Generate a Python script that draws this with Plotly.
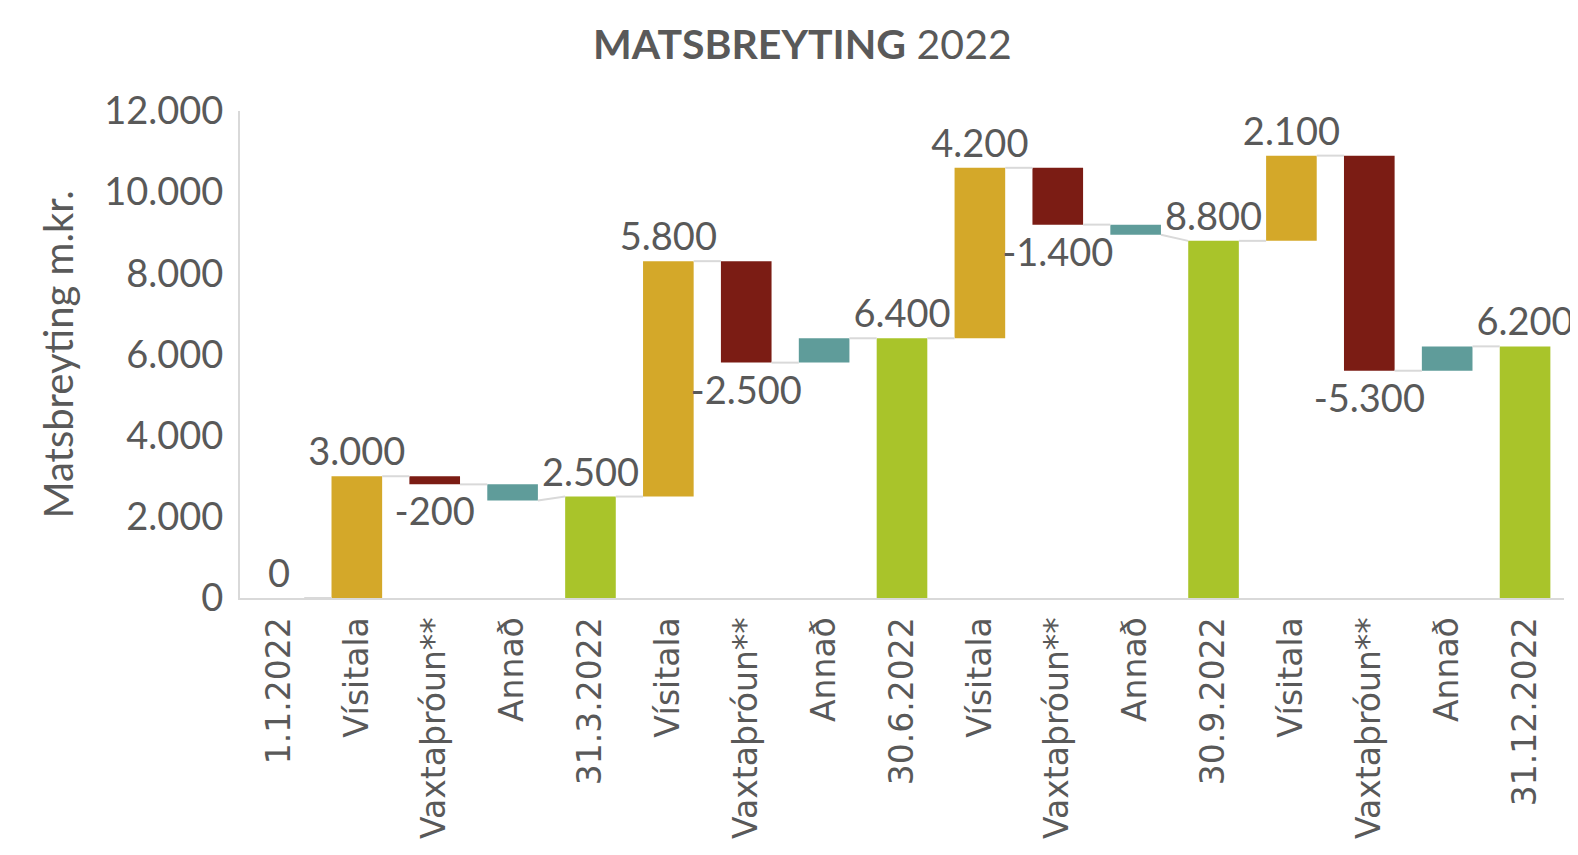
import plotly.graph_objects as go

# categories along the x axis
labels = ["1.1.2022", "Vísitala", "Vaxtaþróun**", "Annað",
          "31.3.2022", "Vísitala", "Vaxtaþróun**", "Annað",
          "30.6.2022", "Vísitala", "Vaxtaþróun**", "Annað",
          "30.9.2022", "Vísitala", "Vaxtaþróun**", "Annað",
          "31.12.2022"]
kinds = ["stada", "visitala", "vaxtathroun", "annad",
         "stada", "visitala", "vaxtathroun", "annad",
         "stada", "visitala", "vaxtathroun", "annad",
         "stada", "visitala", "vaxtathroun", "annad",
         "stada"]
# stada = absolute level, others = change (m.kr.)
values = [0, 3000, -200, -400,
          2500, 5800, -2500, 600,
          6400, 4200, -1400, -250,
          8800, 2100, -5300, 600,
          6200]

colors = {"stada": "#A9C42A", "visitala": "#D4A829",
          "vaxtathroun": "#7B1C14", "annad": "#5F9C9A"}

GREY = "#595959"
BAR_W = 0.65

x = list(range(len(labels)))
bases, heights, starts, ends, texts = [], [], [], [], []
level = 0
for v, k in zip(values, kinds):
    if k == "stada":
        bases.append(0)
        starts.append(v)
        level = v
    else:
        bases.append(level)
        starts.append(level)
        level = level + v
    heights.append(v)
    ends.append(level)
    texts.append("" if k == "annad" else f"{v:,.0f}".replace(",", "."))

# connector lines between bars
cx, cy = [], []
for i in range(len(x) - 1):
    cx += [x[i] + BAR_W / 2, x[i + 1] - BAR_W / 2, None]
    cy += [ends[i], starts[i + 1], None]

fig = go.Figure()
fig.add_trace(go.Scatter(x=cx, y=cy, mode="lines",
                         line=dict(color="#D9D9D9", width=2),
                         hoverinfo="skip", showlegend=False))
fig.add_trace(go.Bar(x=x, y=heights, base=bases,
                     width=BAR_W,
                     marker=dict(color=[colors[k] for k in kinds], line=dict(width=0)),
                     text=texts, textposition="outside", constraintext="none",
                     textfont=dict(family="Lato", size=38, color=GREY),
                     cliponaxis=False, showlegend=False))

fig.update_layout(
    width=1570, height=839,
    template="none",
    plot_bgcolor="white", paper_bgcolor="white",
    margin=dict(l=232, r=14, t=103, b=249),
    title=dict(text="<b>MATSBREYTING</b> 2022", x=0.506, xanchor="center",
               y=1 - 37 / 839, yanchor="middle",
               font=dict(family="Lato", size=41, color=GREY)),
    bargap=0.35,
)
fig.update_xaxes(tickvals=x, ticktext=labels, tickangle=-90,
                 range=[-0.5, len(x) - 0.5],
                 tickfont=dict(family="DejaVu Sans", size=33, color=GREY),
                 showline=True, linecolor="#D9D9D9", linewidth=2,
                 showgrid=False, zeroline=False, ticks="",
                 ticklabelstandoff=4, automargin=False)
fig.update_yaxes(range=[0, 12000], dtick=2000, tickformat=",.0f",
                 tickfont=dict(family="Lato", size=38, color=GREY),
                 title=dict(text="Matsbreyting m.kr.", standoff=18,
                            font=dict(family="Lato", size=40, color=GREY)),
                 showline=True, linecolor="#D9D9D9", linewidth=2,
                 showgrid=False, zeroline=False, ticks="",
                 ticklabelstandoff=7, automargin=False)
fig.update_layout(separators=",.")

fig.write_html("out.html")
